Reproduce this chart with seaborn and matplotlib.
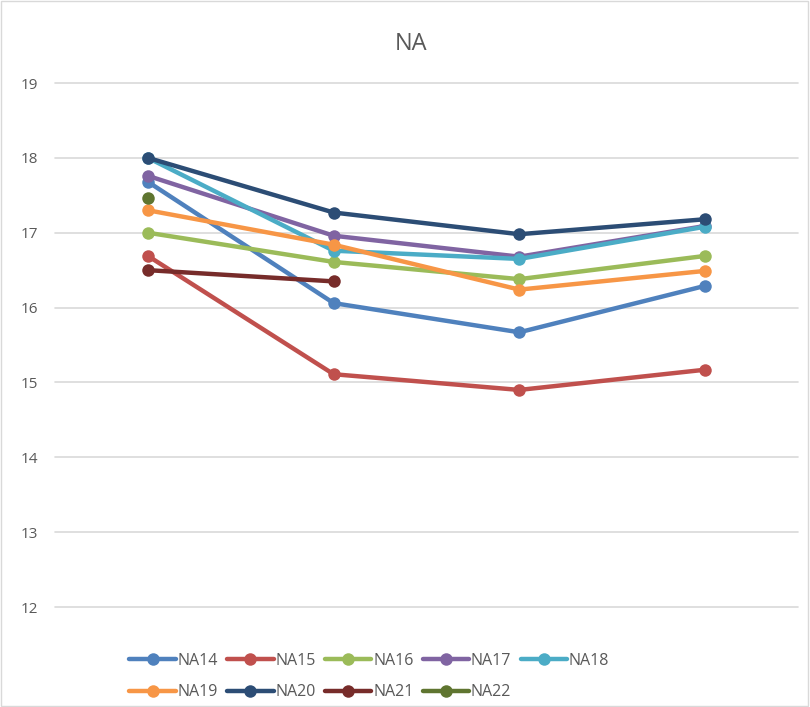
import numpy as np
import pandas as pd
import seaborn as sns
import matplotlib.pyplot as plt
from matplotlib.lines import Line2D
from matplotlib.patches import Rectangle

# Series values (four time points, NaN = no reading)
series_names = ['NA14', 'NA15', 'NA16', 'NA17', 'NA18', 'NA19', 'NA20', 'NA21', 'NA22']
na14 = [17.68, 16.06, 15.67, 16.29]
na15 = [16.69, 15.11, 14.90, 15.17]
na16 = [17.00, 16.61, 16.38, 16.69]
na17 = [17.76, 16.96, 16.68, 17.09]
na18 = [18.00, 16.76, 16.65, 17.08]
na19 = [17.30, 16.84, 16.24, 16.49]
na20 = [18.00, 17.27, 16.98, 17.18]
na21 = [16.50, 16.35, np.nan, np.nan]
na22 = [17.46, np.nan, np.nan, np.nan]
time_points = [1, 2, 3, 4]

colors = ['#4F81BD', '#C0504D', '#9BBB59', '#8064A2', '#4BACC6',
          '#F79646', '#2C4D75', '#772C2A', '#5F7530']

all_values = [na14, na15, na16, na17, na18, na19, na20, na21, na22]
rows = []
for name, vals in zip(series_names, all_values):
    for t, v in zip(time_points, vals):
        rows.append({'Series': name, 'Time': t, 'Value': v})
df = pd.DataFrame(rows).dropna()

sns.set_style('white')
plt.rcParams['font.family'] = ['Open Sans', 'DejaVu Sans']

fig = plt.figure(figsize=(8.1, 7.07), dpi=100)
ax = fig.add_axes([0.068, 0.1414, 0.917, 0.7412])

# gridlines drawn as plain lines so the bottom one is not clipped
for yv in range(12, 20):
    ax.axhline(yv, color='#D9D9D9', linewidth=1.2, zorder=0, clip_on=False)

sns.lineplot(data=df, x='Time', y='Value', hue='Series', hue_order=series_names,
             palette=colors, marker='o', markersize=9, markeredgewidth=0,
             linewidth=3.2, sort=False, legend=False, ax=ax)

ax.set_xlim(0.5, 4.5)
ax.set_ylim(12, 19)
ax.set_yticks(range(12, 20))
ax.set_xticks([])
for s in ax.spines.values():
    s.set_visible(False)
ax.tick_params(axis='y', length=0, pad=12, labelsize=11, labelcolor='#595959')
ax.set_xlabel('')
ax.set_ylabel('')

fig.text(0.507, 0.938, 'NA', ha='center', va='center', fontsize=17, color='#595959')

# Legend laid out row-wise: 5 on top, 4 below
handles = [Line2D([0], [0], color=c, linewidth=3.2, marker='o', markersize=9,
                  markeredgewidth=0) for c in colors]
order = [0, 5, 1, 6, 2, 7, 3, 8, 4]
fig.legend([handles[i] for i in order], [series_names[i] for i in order],
           ncol=5, loc='center left', bbox_to_anchor=(0.142, 0.043),
           frameon=False, fontsize=11.5, handlelength=2.9, handletextpad=0.1,
           columnspacing=0.6, labelspacing=0.95, labelcolor='#595959')

fig.patches.append(Rectangle((0.001, 0.001), 0.997, 0.997, transform=fig.transFigure,
                             fill=False, edgecolor='#D9D9D9', linewidth=1))

fig.savefig('out.png', dpi=100)
